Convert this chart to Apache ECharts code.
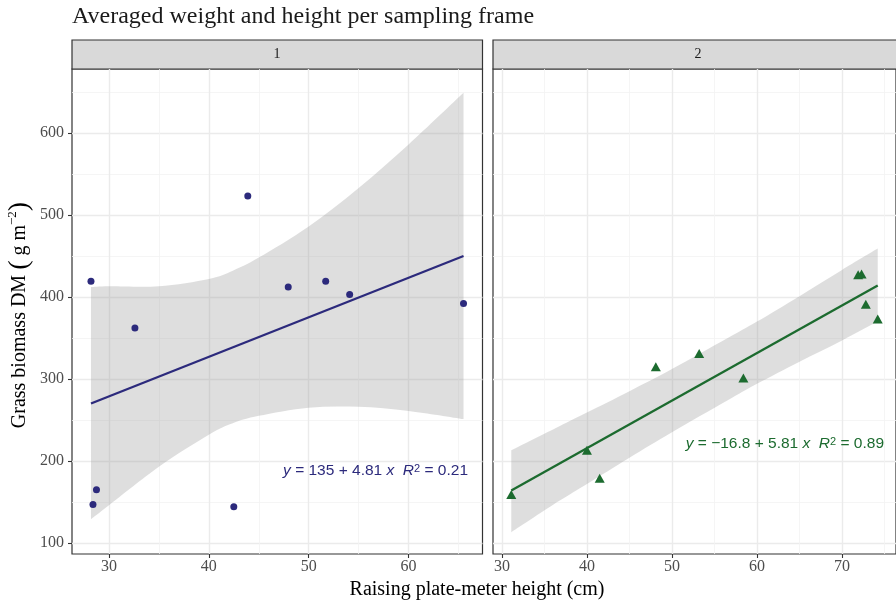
<!DOCTYPE html>
<html>
<head>
<meta charset="utf-8">
<script src="https://cdn.jsdelivr.net/npm/echarts@6/dist/echarts.min.js"></script>
<style>
  html, body { margin: 0; background: #fff; }
  #chart { width: 896px; height: 601px; }
</style>
</head>
<body>
<div id="chart"></div>
<script>
// facet 1 points
const heightA = [28.2, 28.75, 28.4, 32.6, 43.9, 42.5, 47.95, 51.7, 54.1, 65.5];
const biomassA = [419, 165, 147, 362, 523, 144, 412, 419, 403, 392];
// facet 2 points
const heightB = [31.1, 40.0, 41.5, 48.1, 53.2, 58.4, 71.9, 72.3, 72.8, 74.2];
const biomassB = [159, 213, 179, 315, 331, 301, 427, 428, 391, 373];

// fitted lines (end points)
const fitXA = [28.2, 65.5];
const fitYA = [270, 450];
const fitXB = [31.1, 74.2];
const fitYB = [164, 414];

// confidence bands
const bandXA = [28.2, 30, 35, 40, 42.4, 45, 50, 55, 60, 65.5];
const bandLowA = [129, 146, 193, 232, 246, 255, 265, 266, 261, 251];
const bandHighA = [412, 413, 413, 422, 432, 448, 486, 533, 586, 649];
const bandXB = [31.1, 36.7, 40, 45, 50, 56.4, 60, 65, 70, 74.2];
const bandLowB = [113, 151, 172, 204, 235, 273, 294, 321, 347, 370];
const bandHighB = [213, 242, 259, 285, 312, 349, 370, 401, 433, 459];

// ticks
const yTicks = [100, 200, 300, 400, 500, 600];
const yMinor = [150, 250, 350, 450, 550, 650];
const xTicksA = [30, 40, 50, 60];
const xMinorA = [35, 45, 55, 65];
const xTicksB = [30, 40, 50, 60, 70];
const xMinorB = [35, 45, 55, 65, 75];

const labelsEq = [
  '{i|y} = 135 + 4.81 {i|x}  {i|R}{s|2} = 0.21',
  '{i|y} = \u221216.8 + 5.81 {i|x}  {i|R}{s|2} = 0.89'
];

const colA = '#2C2A7C';
const colB = '#1C6B2F';
const serif = 'Liberation Serif';
const sans = 'Liberation Sans';

const chart = echarts.init(document.getElementById('chart'), null, { renderer: 'canvas' });

const Y_MIN = 86.5, Y_MAX = 678;

function majorX(min, max, ticks, grid) {
  return {
    type: 'value', gridIndex: grid, min: min, max: max,
    axisLine: { show: false },
    axisTick: { show: true, customValues: ticks, length: 4, lineStyle: { color: '#333', width: 1.1 } },
    axisLabel: { customValues: ticks, color: '#4D4D4D', fontFamily: serif, fontSize: 16, margin: 5 },
    splitLine: { show: true, lineStyle: { color: '#EBEBEB', width: 1.4 } }
  };
}
function minorX(min, max, ticks, grid) {
  return {
    type: 'value', gridIndex: grid, min: min, max: max, position: 'bottom',
    axisLine: { show: false },
    axisTick: { show: false, customValues: ticks },
    axisLabel: { show: false },
    splitLine: { show: true, lineStyle: { color: '#F2F2F2', width: 0.8 } }
  };
}
function majorY(grid, showLabels) {
  return {
    type: 'value', gridIndex: grid, min: Y_MIN, max: Y_MAX,
    axisLine: { show: false },
    axisTick: { show: showLabels, customValues: yTicks, length: 4, lineStyle: { color: '#333', width: 1.1 } },
    axisLabel: { show: showLabels, customValues: yTicks, color: '#4D4D4D', fontFamily: serif, fontSize: 16, margin: 8 },
    splitLine: { show: true, lineStyle: { color: '#EBEBEB', width: 1.4 } }
  };
}
function minorY(grid) {
  return {
    type: 'value', gridIndex: grid, min: Y_MIN, max: Y_MAX, position: 'left',
    axisLine: { show: false },
    axisTick: { show: false, customValues: yMinor },
    axisLabel: { show: false },
    splitLine: { show: true, lineStyle: { color: '#F2F2F2', width: 0.8 } }
  };
}

// smooth curve through points as bezier segments
function curvePath(pts) {
  let d = '';
  for (let i = 0; i < pts.length - 1; i++) {
    const p0 = pts[Math.max(i - 1, 0)], p1 = pts[i], p2 = pts[i + 1], p3 = pts[Math.min(i + 2, pts.length - 1)];
    const c1 = [p1[0] + (p2[0] - p0[0]) / 6, p1[1] + (p2[1] - p0[1]) / 6];
    const c2 = [p2[0] - (p3[0] - p1[0]) / 6, p2[1] - (p3[1] - p1[1]) / 6];
    d += ' C' + c1[0] + ' ' + c1[1] + ' ' + c2[0] + ' ' + c2[1] + ' ' + p2[0] + ' ' + p2[1];
  }
  return d;
}

function bandSeries(xs, lo, hi, xi, yi) {
  return {
    type: 'custom', xAxisIndex: xi, yAxisIndex: yi, silent: true, z: 2,
    data: xs.map((x, i) => [x, lo[i], hi[i]]),
    renderItem: function (params, api) {
      if (params.dataIndex !== 0) return null;
      const top = xs.map((x, i) => api.coord([x, hi[i]]));
      const bot = xs.map((x, i) => api.coord([x, lo[i]])).reverse();
      const d = 'M' + top[0][0] + ' ' + top[0][1] + curvePath(top) +
        ' L' + bot[0][0] + ' ' + bot[0][1] + curvePath(bot) + ' Z';
      return {
        type: 'path',
        shape: { pathData: d },
        style: { fill: '#999999', opacity: 0.32 }
      };
    }
  };
}

const option = {
  animation: false,
  title: {
    text: 'Averaged weight and height per sampling frame',
    left: 72, top: 5, padding: 0,
    textStyle: { fontFamily: serif, fontSize: 24, fontWeight: 'normal', color: '#1A1A1A' }
  },
  grid: [
    { left: 72, top: 69, width: 410.5, height: 485, show: true, borderColor: '#333', borderWidth: 1.2, backgroundColor: '#fff' },
    { left: 493, top: 69, width: 410, height: 485, show: true, borderColor: '#333', borderWidth: 1.2, backgroundColor: '#fff' }
  ],
  xAxis: [
    majorX(26.3, 67.4, xTicksA, 0),
    majorX(28.95, 76.35, xTicksB, 1),
    minorX(26.3, 67.4, xMinorA, 0),
    minorX(28.95, 76.35, xMinorB, 1)
  ],
  yAxis: [
    majorY(0, true),
    majorY(1, false),
    minorY(0),
    minorY(1)
  ],
  series: [
    bandSeries(bandXA, bandLowA, bandHighA, 0, 0),
    bandSeries(bandXB, bandLowB, bandHighB, 1, 1),
    {
      type: 'line', xAxisIndex: 0, yAxisIndex: 0, symbol: 'none', z: 3,
      lineStyle: { color: colA, width: 2.3 },
      data: fitXA.map((x, i) => [x, fitYA[i]])
    },
    {
      type: 'line', xAxisIndex: 1, yAxisIndex: 1, symbol: 'none', z: 3,
      lineStyle: { color: colB, width: 2.3 },
      data: fitXB.map((x, i) => [x, fitYB[i]])
    },
    {
      type: 'scatter', xAxisIndex: 0, yAxisIndex: 0, symbol: 'circle', symbolSize: 7, z: 4,
      itemStyle: { color: colA, opacity: 1 },
      data: heightA.map((x, i) => [x, biomassA[i]])
    },
    {
      type: 'scatter', xAxisIndex: 1, yAxisIndex: 1, symbol: 'triangle', symbolSize: [10, 9], z: 4,
      itemStyle: { color: colB, opacity: 1 },
      data: heightB.map((x, i) => [x, biomassB[i]])
    }
  ],
  graphic: [
    { type: 'rect', shape: { x: 72, y: 40, width: 410.5, height: 29 }, style: { fill: '#D9D9D9', stroke: '#333', lineWidth: 1.2 } },
    { type: 'rect', shape: { x: 493, y: 40, width: 410, height: 29 }, style: { fill: '#D9D9D9', stroke: '#333', lineWidth: 1.2 } },
    { type: 'text', x: 277, y: 54.5, style: { text: '1', fontFamily: serif, fontSize: 14, fill: '#1A1A1A', textAlign: 'center', textVerticalAlign: 'middle' } },
    { type: 'text', x: 698, y: 54.5, style: { text: '2', fontFamily: serif, fontSize: 14, fill: '#1A1A1A', textAlign: 'center', textVerticalAlign: 'middle' } },
    {
      type: 'text', x: 477, y: 590,
      style: { text: 'Raising plate-meter height (cm)', fontFamily: serif, fontSize: 20, fill: '#000', textAlign: 'center', textVerticalAlign: 'middle' }
    },
    {
      type: 'text', x: 20, y: 315, rotation: Math.PI / 2,
      style: {
        text: '{a|Grass biomass DM }{p|(}{a| g m}{s|\u22122}{p|)}',
        textAlign: 'center', textVerticalAlign: 'middle',
        rich: {
          a: { fontFamily: serif, fontSize: 20, fill: '#000' },
          p: { fontFamily: serif, fontSize: 28, fill: '#000' },
          s: { fontFamily: serif, fontSize: 13, fill: '#000', verticalAlign: 'top' }
        }
      }
    },
    {
      type: 'text', x: 468, y: 471, z: 10,
      style: {
        text: labelsEq[0], textAlign: 'right', textVerticalAlign: 'middle',
        fontFamily: sans, fontSize: 15.5, fill: colA,
        rich: {
          i: { fontFamily: sans, fontSize: 15.5, fontStyle: 'italic', fill: colA },
          s: { fontFamily: sans, fontSize: 11, fill: colA, verticalAlign: 'top' }
        }
      }
    },
    {
      type: 'text', x: 884, y: 444, z: 10,
      style: {
        text: labelsEq[1], textAlign: 'right', textVerticalAlign: 'middle',
        fontFamily: sans, fontSize: 15.5, fill: colB,
        rich: {
          i: { fontFamily: sans, fontSize: 15.5, fontStyle: 'italic', fill: colB },
          s: { fontFamily: sans, fontSize: 11, fill: colB, verticalAlign: 'top' }
        }
      }
    }
  ]
};

chart.setOption(option);
</script>
</body>
</html>
